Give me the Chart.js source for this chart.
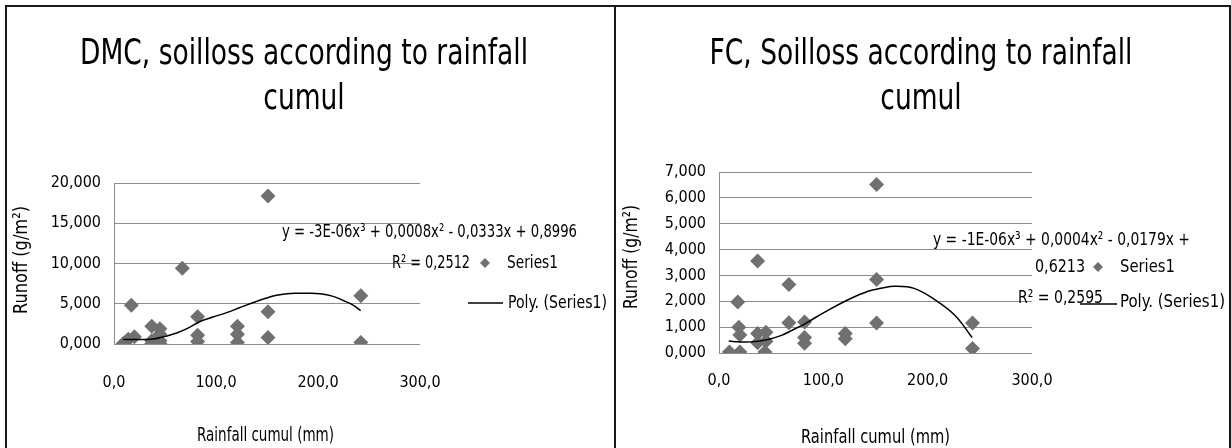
<!DOCTYPE html>
<html><head><meta charset="utf-8">
<script src="https://cdn.jsdelivr.net/npm/chart.js@4.4.1/dist/chart.umd.min.js"></script>
<style>
html,body{margin:0;padding:0;background:#fff;width:1231px;height:448px;overflow:hidden;}
canvas{position:absolute;top:0;}
#c1{left:0;} #c2{left:615px;}
.box{position:absolute;top:5px;height:460px;border:2px solid #1a1a1a;box-sizing:border-box;pointer-events:none;}
#b1{left:5px;width:611px;} #b2{left:614px;width:617px;}
</style></head>
<body>
<canvas id="c1" width="615" height="448"></canvas>
<canvas id="c2" width="616" height="448"></canvas>
<div class="box" id="b1"></div><div class="box" id="b2"></div>
<script>
// ---- data ----
const dmcRain = [9, 12, 14, 17, 20, 37, 37, 37, 45, 45, 45, 45, 67, 82, 82, 82, 121, 121, 121, 151, 151, 151, 242, 242];
const dmcLoss = [0.05, 0.3, 0.6, 4.8, 0.9, 2.2, 0.4, 0.05, 1.9, 1.2, 0.4, 0.05, 9.4, 3.4, 1.1, 0.3, 2.2, 1.2, 0.2, 18.4, 4.0, 0.8, 6.0, 0.2];
const dmcTrendX = [9, 20, 38.5, 50, 61.5, 73, 84.3, 97, 110.5, 123, 136.6, 148, 159.5, 170, 179, 190, 202, 214, 224.8, 234, 241.8];
const dmcTrendY = [0.55, 0.55, 0.62, 0.95, 1.36, 2.0, 2.8, 3.35, 3.9, 4.5, 5.15, 5.65, 6.06, 6.25, 6.3, 6.3, 6.23, 5.95, 5.4, 4.85, 4.16];

const fcRain = [10, 20, 18, 19, 20, 37, 37, 37, 44, 45, 45, 67, 67, 82, 82, 82, 121, 121, 151, 151, 151, 243, 243];
const fcLoss = [0.04, 0.04, 1.97, 1.0, 0.7, 3.56, 0.75, 0.4, 0.04, 0.8, 0.45, 2.65, 1.17, 1.2, 0.6, 0.38, 0.75, 0.55, 6.52, 2.84, 1.16, 1.16, 0.17];
const fcTrendX = [9.3, 20, 34.2, 47, 59.8, 71, 82.2, 101.3, 123.7, 142.9, 155, 168.5, 187.6, 206.8, 226, 242.6];
const fcTrendY = [0.46, 0.43, 0.44, 0.52, 0.68, 0.9, 1.13, 1.58, 2.06, 2.39, 2.5, 2.58, 2.49, 2.06, 1.46, 0.6];

const xTickLabels = ['0,0', '100,0', '200,0', '300,0'];
const dmcYTickLabels = ['0,000', '5,000', '10,000', '15,000', '20,000'];
const fcYTickLabels = ['0,000', '1,000', '2,000', '3,000', '4,000', '5,000', '6,000', '7,000'];

const F = "'DejaVu Sans Condensed','DejaVu Sans',sans-serif";
const MARK = '#707070';
const GRID = '#8c8c8c';

function pts(xs, ys){ return xs.map((x,i)=>({x:x, y:ys[i]})); }

// draw text horizontally fitted between x1 and x2, centred vertically on y
function fit(ctx, s, x1, x2, y, size){
  ctx.font = size + 'px ' + F;
  const w = ctx.measureText(s).width;
  const sx = (x2 - x1) / w;
  ctx.save();
  ctx.translate(x1, y);
  ctx.scale(sx, 1);
  ctx.textAlign = 'left'; ctx.textBaseline = 'middle';
  ctx.fillText(s, 0, 0);
  ctx.restore();
}

const annot = {
  id:'annot',
  afterDraw(chart, args, o){
    const ctx = chart.ctx;
    ctx.save();
    ctx.fillStyle = '#000';
    // chart title (common horizontal compression)
    ctx.font = '35px ' + F;
    const ref = ctx.measureText('DMC, soilloss according to rainfall').width;
    const sx = 448 / ref;
    o.title.forEach((t,i)=>{
      ctx.save(); ctx.translate(o.titleX, o.titleY[i]); ctx.scale(sx,1);
      ctx.textAlign='center'; ctx.textBaseline='middle'; ctx.fillText(t,0,0); ctx.restore();
    });
    // axis titles
    const xt = o.xTitle;
    fit(ctx, 'Rainfall cumul (mm)', xt.x1, xt.x2, xt.y, 19);
    const yt = o.yTitle;
    ctx.save(); ctx.translate(yt.x, yt.y); ctx.rotate(-Math.PI/2);
    fit(ctx, 'Runoff (g/m²)', -yt.len/2, yt.len/2, 0, 20);
    ctx.restore();
    // trendline label and legend texts
    o.texts.forEach(t=>fit(ctx, t.s, t.x1, t.x2, t.y, 18));
    const d = o.diamond;
    ctx.fillStyle = MARK;
    ctx.beginPath(); ctx.moveTo(d.x-5,d.y); ctx.lineTo(d.x,d.y-5); ctx.lineTo(d.x+5,d.y); ctx.lineTo(d.x,d.y+5); ctx.closePath(); ctx.fill();
    const l = o.line;
    ctx.strokeStyle = '#000'; ctx.lineWidth = 1.5;
    ctx.beginPath(); ctx.moveTo(l.x1,l.y); ctx.lineTo(l.x2,l.y); ctx.stroke();
    ctx.restore();
  }
};

function make(id, rain, loss, tx, ty, yMax, yStep, yLabels, pad, yW, xH, xPad, ann){
  return new Chart(document.getElementById(id), {
    type:'scatter',
    data:{datasets:[
      {type:'line', data:pts(tx,ty), borderColor:'#000', borderWidth:1.5, pointRadius:0, tension:0.4, fill:false, order:0},
      {data:pts(rain,loss), pointStyle:'rectRot', pointRadius:7.5, pointHoverRadius:7.5, backgroundColor:MARK, pointBorderWidth:0, borderWidth:0, order:1}
    ]},
    options:{
      responsive:false, animation:false, devicePixelRatio:1,
      layout:{padding:pad},
      plugins:{legend:{display:false}, tooltip:{enabled:false}, annot:ann},
      scales:{
        x:{type:'linear', min:0, max:300,
           ticks:{stepSize:100, padding:xPad, color:'#000', font:{family:F,size:16}, autoSkip:false, maxRotation:0, callback:(v,i)=>xTickLabels[i]},
           grid:{display:false, drawTicks:false}, border:{display:false},
           afterFit(s){ s.height = xH; }},
        y:{min:0, max:yMax,
           ticks:{stepSize:yStep, padding:13, color:'#000', font:{family:F,size:16}, autoSkip:false, callback:(v,i)=>yLabels[i]},
           grid:{color:GRID, lineWidth:1, drawTicks:false}, border:{display:true, color:GRID, width:1},
           afterFit(s){ s.width = yW; }}
      }
    },
    plugins:[annot]
  });
}

make('c1', dmcRain, dmcLoss, dmcTrendX, dmcTrendY, 20, 5, dmcYTickLabels,
  {left:10, top:183, right:195, bottom:1}, 104, 103, 29,
  {title:['DMC, soilloss according to rainfall','cumul'], titleX:304, titleY:[55,100],
   xTitle:{x1:197, x2:334, y:436}, yTitle:{x:22, y:260, len:108},
   texts:[
     {s:'y = -3E-06x³ + 0,0008x² - 0,0333x + 0,8996', x1:282, x2:577, y:232},
     {s:'R² = 0,2512', x1:392, x2:470, y:263},
     {s:'Series1', x1:507, x2:558, y:263},
     {s:'Poly. (Series1)', x1:508, x2:607, y:303}
   ],
   diamond:{x:485, y:263}, line:{x1:468, x2:503, y:303}});

make('c2', fcRain, fcLoss, fcTrendX, fcTrendY, 7, 1, fcYTickLabels,
  {left:5, top:172, right:199, bottom:0}, 99, 95, 18,
  {title:['FC, Soilloss according to rainfall','cumul'], titleX:306, titleY:[55,100],
   xTitle:{x1:186, x2:335, y:438}, yTitle:{x:17, y:257, len:104},
   texts:[
     {s:'y = -1E-06x³ + 0,0004x² - 0,0179x +', x1:318, x2:575, y:240},
     {s:'0,6213', x1:420, x2:470, y:267},
     {s:'Series1', x1:505, x2:560, y:267},
     {s:'R² = 0,2595', x1:403, x2:488, y:298},
     {s:'Poly. (Series1)', x1:505, x2:610, y:302}
   ],
   diamond:{x:483, y:267}, line:{x1:465, x2:502, y:304}});
</script>
</body></html>
